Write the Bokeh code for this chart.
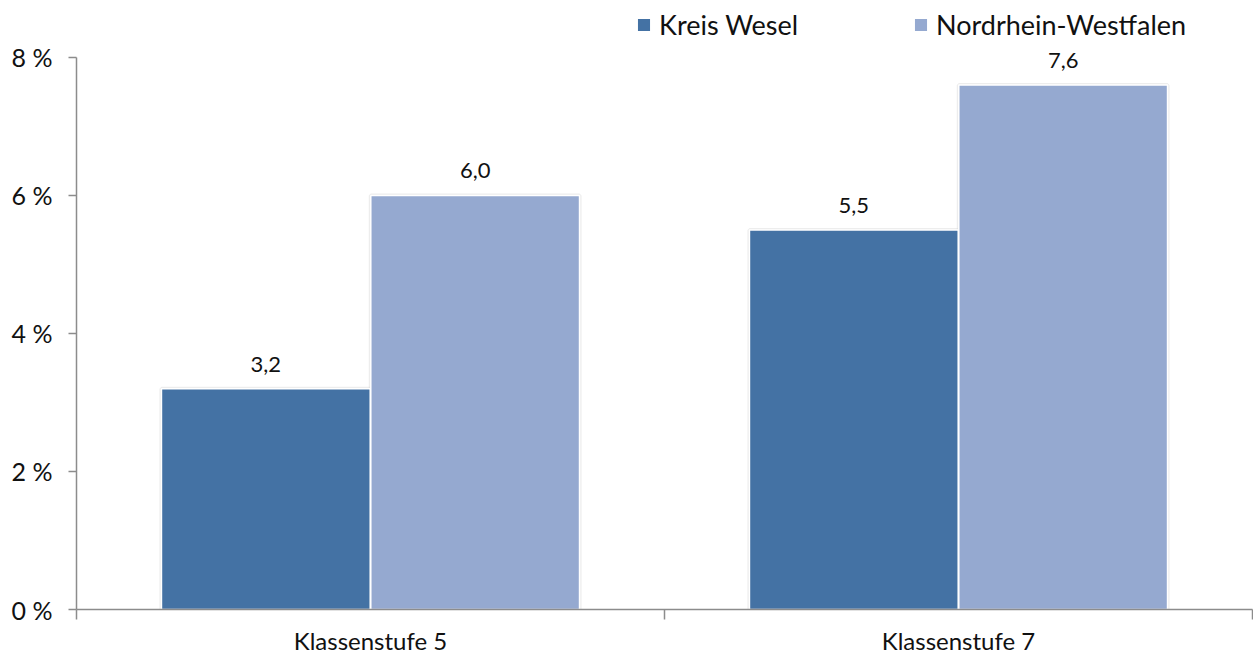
from bokeh.plotting import figure
from bokeh.models import (ColumnDataSource, FixedTicker, Legend, LegendItem,
                          LabelSet, Range1d)
from bokeh.core.properties import value
from bokeh.embed import file_html
from bokeh.resources import INLINE

categories = ["Klassenstufe 5", "Klassenstufe 7"]
series_names = ["Kreis Wesel", "Nordrhein-Westfalen"]
kreis_wesel = [3.2, 5.5]
nrw = [6.0, 7.6]
y_ticks = [0, 2, 4, 6, 8]
y_tick_labels = ["0 %", "2 %", "4 %", "6 %", "8 %"]

c1 = "#4472A4"
c2 = "#95A9D0"
FONT = "Lato"

idx = list(range(len(categories)))
off = 0.178
bw = 0.355

# layout: frame from y=4 to y=610 px; the 8 % tick sits at y=57 px
frame_top, frame_bottom, axis_top = 4, 610, 57
y_max = y_ticks[-1]
y_end = y_max * (frame_bottom - frame_top) / (frame_bottom - axis_top)

src1 = ColumnDataSource(dict(x=[i + 0.5 - off for i in idx], y=kreis_wesel,
                             lab=[f"{v:.1f}".replace(".", ",") for v in kreis_wesel]))
src2 = ColumnDataSource(dict(x=[i + 0.5 + off for i in idx], y=nrw,
                             lab=[f"{v:.1f}".replace(".", ",") for v in nrw]))

p = figure(width=1253, height=657, output_backend="svg", toolbar_location=None,
           x_range=Range1d(0, len(categories)), y_range=Range1d(0, y_end),
           min_border_left=76, min_border_right=1, min_border_top=frame_top,
           min_border_bottom=657 - frame_bottom)
p.outline_line_color = None
p.grid.visible = False
p.background_fill_color = "white"

# soft shadow
for s in (src1, src2):
    p.vbar(x="x", top="y", width=bw, source=s, fill_color=None,
           line_color="#cccccc", line_width=4, line_alpha=0.35)

r1 = p.vbar(x="x", top="y", width=bw, source=src1, fill_color=c1,
            line_color="white", line_width=1.5)
r2 = p.vbar(x="x", top="y", width=bw, source=src2, fill_color=c2,
            line_color="white", line_width=1.5)

for s in (src1, src2):
    p.add_layout(LabelSet(x="x", y="y", text="lab", source=s, y_offset=17,
                          text_align="center", text_baseline="bottom",
                          text_font=value(FONT), text_font_size=value("22px"),
                          text_color="#111111"))

# y axis
ya = p.yaxis[0]
ya.bounds = (0, y_max)
ya.ticker = FixedTicker(ticks=y_ticks, minor_ticks=[])
ya.major_label_overrides = {t: l for t, l in zip(y_ticks, y_tick_labels)}
ya.axis_line_color = "#8c8c8c"
ya.axis_line_width = 1.5
ya.major_tick_line_color = "#8c8c8c"
ya.major_tick_line_width = 1.5
ya.major_tick_out = 8
ya.major_tick_in = 0
ya.major_label_standoff = 16
ya.major_label_text_font = FONT
ya.major_label_text_font_size = "25px"
ya.major_label_text_color = "#111111"

# x axis
xa = p.xaxis[0]
xa.ticker = FixedTicker(ticks=[i + 0.5 for i in idx],
                        minor_ticks=list(range(len(categories) + 1)))
xa.major_label_overrides = {i + 0.5: c for i, c in zip(idx, categories)}
xa.axis_line_color = "#8c8c8c"
xa.axis_line_width = 1.5
xa.major_tick_out = 0
xa.major_tick_in = 0
xa.minor_tick_line_color = "#8c8c8c"
xa.minor_tick_line_width = 1.5
xa.minor_tick_out = 10
xa.minor_tick_in = 0
xa.major_label_standoff = 6
xa.major_label_text_font = FONT
xa.major_label_text_font_size = "24px"
xa.major_label_text_color = "#111111"

legend = Legend(items=[LegendItem(label=series_names[0], renderers=[r1]),
                       LegendItem(label=series_names[1], renderers=[r2])],
                orientation="horizontal", location=(559, 568),
                padding=0, margin=0, spacing=0, label_standoff=7,
                glyph_width=17, glyph_height=17, label_width=253,
                border_line_color=None, background_fill_alpha=0,
                label_text_font=FONT, label_text_font_size="27px",
                label_text_color="#111111")
p.add_layout(legend, "center")

open("out.html", "w").write(file_html(p, INLINE))
